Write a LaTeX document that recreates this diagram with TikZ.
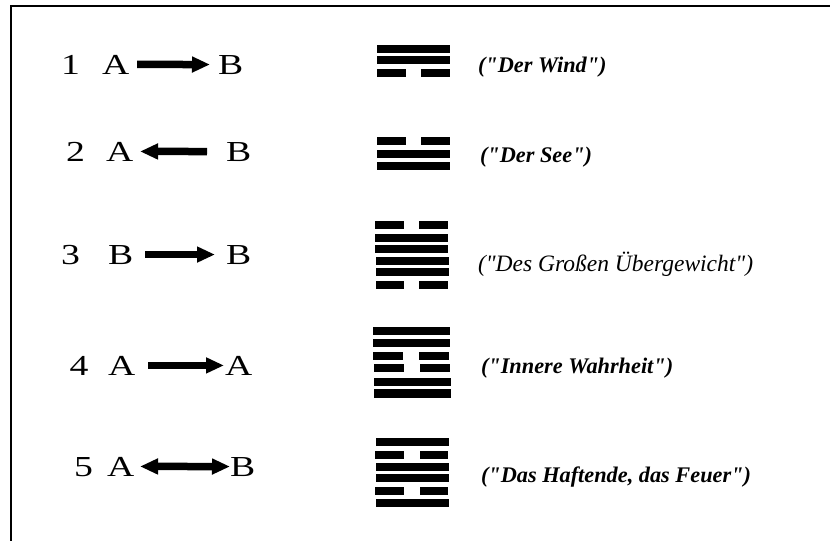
\documentclass[tikz,border=0pt]{standalone}
\usepackage{fontspec}
\setmainfont{Liberation Serif}[Ligatures=TeXOff]
\usetikzlibrary{arrows.meta}

\begin{document}
\begin{tikzpicture}[x=1pt, y=-1pt,
  every node/.style={inner sep=0pt, outer sep=0pt, anchor=base west},
  sym/.style={font=\fontsize{29}{31}\selectfont, xscale=1.3},
  hexname/.style={font=\fontsize{22.3}{25}\selectfont\bfseries\itshape},
  fat/.style={line width=7.5pt, -{Triangle[length=18pt,width=15pt]}},
  fatboth/.style={line width=7.5pt, {Triangle[length=18pt,width=15pt]}-{Triangle[length=18pt,width=15pt]}}]
\useasboundingbox (0,0) rectangle (830,541);
\draw[line width=2.8pt] (830,6) -- (11,6) -- (11,541);

\node[sym] (n1) at (61,74) {1};
\node[sym] (a1) at (102,74) {A};
\node[sym] (b1) at (218,74) {B};
\draw[fat, shorten <=7.8pt, shorten >=8pt] (a1) -- (b1);

\node[sym] (n2) at (66,161) {2};
\node[sym] (a2) at (106,161) {A};
\node[sym] (b2) at (226,161) {B};
\draw[fat, shorten <=19pt, shorten >=6.8pt] (b2) -- (a2);

\node[sym] (n3) at (61,264) {3};
\node[sym] (a3) at (108,264) {B};
\node[sym] (b3) at (226,264) {B};
\draw[fat, shorten <=11.9pt, shorten >=11pt] (a3) -- (b3);

\node[sym] (n4) at (69.5,375) {4};
\node[sym] (a4) at (108,375) {A};
\node[sym] (b4) at (225,375) {A};
\draw[fat, shorten <=12.8pt, shorten >=1pt] (a4) -- (b4);

\node[sym] (n5) at (74,476) {5};
\node[sym] (a5) at (107,476) {A};
\node[sym] (b5) at (230,476) {B};
\draw[fatboth, shorten <=5.8pt, shorten >=0pt] (a5) -- (b5);

\fill (377,45) rectangle (450,53);
\fill (377,56) rectangle (450,64);
\fill (377,69) rectangle (406,77);
\fill (421,69) rectangle (450,77);

\fill (377,137) rectangle (406,145);
\fill (421,137) rectangle (450,145);
\fill (377,150) rectangle (450,158);
\fill (377,162) rectangle (450,170);

\fill (375,221) rectangle (404,229);
\fill (419,221) rectangle (448,229);
\fill (375,234) rectangle (448,242);
\fill (375,245) rectangle (448,253);
\fill (376,257) rectangle (449,265);
\fill (376,268) rectangle (449,276);
\fill (376,281) rectangle (404,289);
\fill (419,281) rectangle (448,289);

\fill (373,327) rectangle (450,335);
\fill (373,339) rectangle (450,347);
\fill (373,352) rectangle (403,360);
\fill (419,352) rectangle (449,360);
\fill (374,364) rectangle (404,372);
\fill (420,364) rectangle (450,372);
\fill (374,378) rectangle (451,386);
\fill (374,389) rectangle (451,398);

\fill (376,438) rectangle (449,446);
\fill (375,451) rectangle (404,459);
\fill (420,451) rectangle (448,459);
\fill (376,463) rectangle (449,471);
\fill (376,474) rectangle (449,482);
\fill (375,487) rectangle (404,495);
\fill (420,487) rectangle (448,495);
\fill (376,499) rectangle (449,507);

\node[hexname] (t1) at (478,72) {("Der Wind")};
\node[hexname] (t2) at (480,162) {("Der See")};
\node[hexname, font=\fontsize{23.5}{26}\selectfont\itshape] (t3) at (478,271) {("Des Großen Übergewicht")};
\node[hexname] (t4) at (481,373) {("Innere Wahrheit")};
\node[hexname] (t5) at (481,482) {("Das Haftende, das Feuer")};
\end{tikzpicture}
\end{document}
